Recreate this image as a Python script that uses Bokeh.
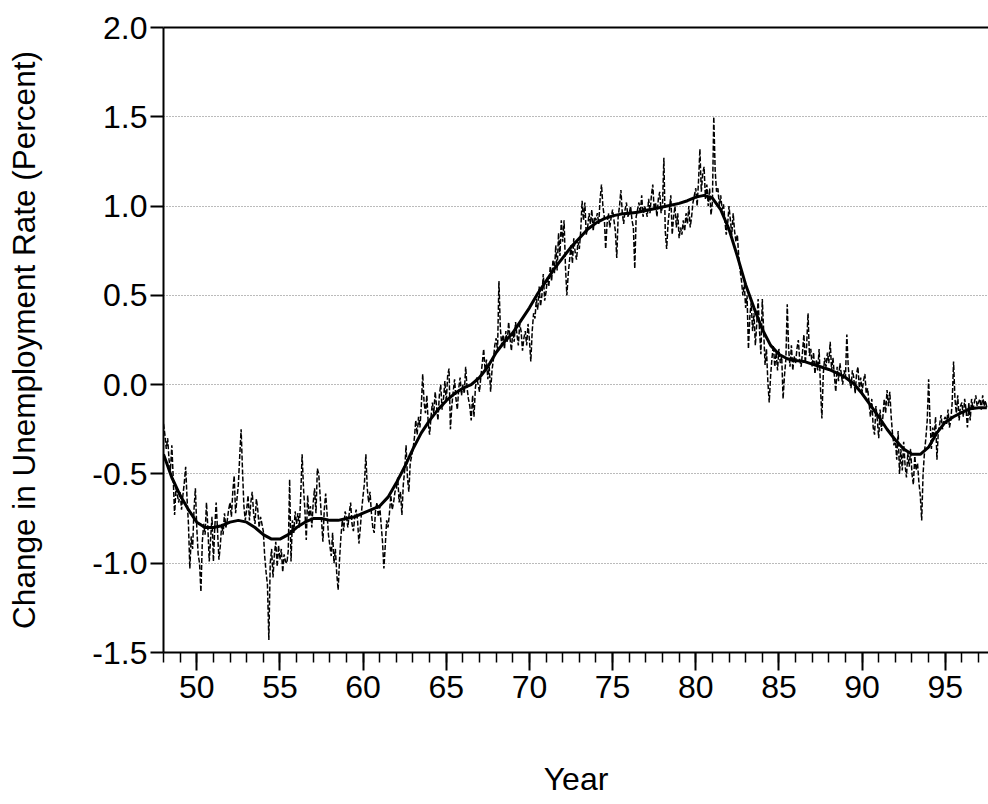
import numpy as np
from bokeh.plotting import figure
from bokeh.models import (Range1d, LinearAxis, FixedTicker, SingleIntervalTicker,
                          NumeralTickFormatter, ColumnDataSource)
from bokeh.embed import file_html
from bokeh.resources import INLINE

# ---------------- data ----------------
first_year = 48  # monthly observations start in January 1948

# monthly change in unemployment rate (percent), one row per year
change_1948_1957 = [
    -0.22, -0.28, -0.36, -0.30, -0.42, -0.48, -0.34, -0.52, -0.73, -0.58, -0.62, -0.66,
    -0.60, -0.70, -0.62, -0.55, -0.46, -0.64, -0.78, -1.03, -0.85, -0.92, -0.70, -0.58,
    -0.80, -0.95, -1.00, -1.16, -0.88, -0.78, -0.84, -0.66, -0.80, -0.99, -0.86, -0.74,
    -0.99, -0.80, -0.66, -0.82, -0.98, -0.90, -0.78, -0.84, -0.72, -0.80, -0.76, -0.70,
    -0.66, -0.74, -0.60, -0.51, -0.72, -0.64, -0.56, -0.40, -0.25, -0.48, -0.68, -0.76,
    -0.70, -0.62, -0.76, -0.66, -0.60, -0.72, -0.78, -0.64, -0.70, -0.80, -0.74, -0.78,
    -0.82, -0.96, -1.05, -1.12, -1.43, -1.00, -0.92, -1.08, -0.95, -0.88, -1.02, -0.90,
    -0.98, -0.92, -1.05, -0.95, -0.99, -1.00, -0.93, -0.53, -0.99, -0.76, -0.83, -0.71,
    -0.78, -0.72, -0.80, -0.62, -0.39, -0.58, -0.70, -0.87, -0.62, -0.74, -0.68, -0.80,
    -0.66, -0.58, -0.72, -0.47, -0.50, -0.62, -0.76, -0.88, -0.70, -0.61, -0.72, -0.84,
]
change_1958_1967 = [
    -0.90, -0.96, -0.83, -1.00, -0.92, -1.06, -1.15, -0.98, -0.85, -0.76, -0.82, -0.71,
    -0.74, -0.80, -0.72, -0.66, -0.78, -0.82, -0.74, -0.70, -0.76, -0.89, -0.80, -0.70,
    -0.62, -0.55, -0.39, -0.58, -0.66, -0.60, -0.72, -0.80, -0.83, -0.70, -0.66, -0.74,
    -0.68, -0.78, -0.88, -1.03, -0.90, -0.76, -0.80, -0.72, -0.62, -0.70, -0.66, -0.60,
    -0.58, -0.52, -0.66, -0.60, -0.73, -0.56, -0.48, -0.34, -0.52, -0.60, -0.44, -0.40,
    -0.36, -0.30, -0.20, -0.28, -0.18, -0.24, -0.12, 0.06, -0.10, -0.16, -0.06, -0.22,
    -0.28, -0.18, -0.10, -0.16, -0.04, -0.12, -0.20, -0.06, 0.00, -0.14, -0.08, 0.02,
    -0.10, 0.05, 0.09, -0.25, -0.12, -0.04, 0.03, -0.08, -0.14, -0.02, 0.04, -0.06,
    0.00, -0.05, 0.10, -0.02, -0.08, -0.12, -0.20, -0.06, -0.18, -0.02, 0.04, 0.00,
    -0.04, 0.05, 0.12, 0.20, 0.08, 0.14, 0.03, 0.10, -0.04, 0.08, 0.14, 0.22,
]
change_1968_1977 = [
    0.26, 0.19, 0.58, 0.32, 0.22, 0.28, 0.20, 0.30, 0.24, 0.35, 0.26, 0.19,
    0.30, 0.24, 0.35, 0.28, 0.22, 0.34, 0.30, 0.19, 0.26, 0.30, 0.22, 0.34,
    0.25, 0.13, 0.30, 0.40, 0.37, 0.48, 0.42, 0.55, 0.44, 0.50, 0.62, 0.47,
    0.52, 0.60, 0.55, 0.66, 0.58, 0.70, 0.62, 0.78, 0.64, 0.85, 0.72, 0.92,
    0.80, 0.92, 0.66, 0.50, 0.62, 0.70, 0.78, 0.68, 0.82, 0.74, 0.70, 0.80,
    0.76, 0.86, 1.03, 0.92, 1.02, 0.84, 0.88, 0.96, 0.90, 0.98, 0.86, 0.94,
    0.92, 0.96, 0.90, 1.04, 1.12, 1.00, 0.94, 0.76, 0.90, 0.96, 0.88, 0.94,
    0.98, 0.92, 0.86, 0.71, 0.94, 1.00, 1.09, 0.96, 0.90, 0.98, 1.02, 0.94,
    0.96, 1.00, 0.92, 0.88, 0.65, 0.94, 0.98, 1.02, 0.96, 1.06, 0.94, 1.00,
    0.98, 0.94, 1.04, 0.96, 1.06, 1.12, 0.98, 1.02, 0.94, 1.04, 1.08, 0.96,
]
change_1978_1987 = [
    1.00, 1.27, 0.86, 0.76, 0.90, 0.98, 1.06, 0.84, 0.94, 1.00, 0.88, 0.96,
    0.82, 0.88, 0.84, 0.92, 0.86, 0.96, 0.90, 1.00, 0.88, 0.94, 1.02, 1.06,
    1.10, 1.00, 1.14, 1.32, 1.08, 1.18, 1.22, 1.04, 1.12, 1.00, 1.10, 0.95,
    1.02, 1.50, 1.20, 1.08, 1.10, 1.00, 1.06, 0.98, 1.01, 0.92, 0.84, 0.90,
    1.00, 0.92, 0.84, 0.96, 0.86, 0.80, 0.84, 0.72, 0.64, 0.58, 0.50, 0.56,
    0.43, 0.50, 0.20, 0.38, 0.46, 0.30, 0.40, 0.22, 0.34, 0.48, 0.30, 0.17,
    0.48, 0.30, 0.11, 0.20, 0.02, -0.10, 0.05, 0.15, 0.22, 0.10, 0.18, 0.08,
    0.20, 0.12, 0.16, -0.08, 0.05, 0.14, 0.45, 0.20, 0.10, 0.22, 0.08, 0.16,
    0.12, 0.20, 0.25, 0.14, 0.10, 0.18, 0.28, 0.12, 0.22, 0.40, 0.16, 0.20,
    0.10, 0.18, 0.06, 0.14, 0.08, 0.20, -0.02, -0.19, 0.06, 0.15, 0.10, 0.18,
]
change_1988_1997 = [
    0.12, 0.24, 0.08, 0.15, 0.05, -0.04, 0.10, 0.02, 0.12, 0.06, 0.00, 0.08,
    0.04, 0.28, 0.10, 0.02, -0.02, 0.08, 0.04, -0.05, 0.06, 0.10, -0.02, 0.04,
    -0.04, 0.02, 0.06, -0.05, -0.02, -0.10, -0.18, -0.08, -0.24, -0.28, -0.12, -0.20,
    -0.30, -0.14, -0.26, -0.18, -0.08, -0.16, -0.03, -0.12, -0.04, -0.18, -0.28, -0.34,
    -0.30, -0.42, -0.26, -0.50, -0.36, -0.48, -0.32, -0.45, -0.52, -0.38, -0.46, -0.36,
    -0.50, -0.56, -0.40, -0.48, -0.44, -0.55, -0.62, -0.76, -0.50, -0.38, -0.30, -0.20,
    0.03, -0.20, -0.36, -0.24, -0.30, -0.18, -0.42, -0.26, -0.22, -0.17, -0.25, -0.20,
    -0.18, -0.22, -0.14, -0.24, -0.20, -0.10, 0.13, -0.08, -0.16, -0.06, -0.20, -0.12,
    -0.10, -0.18, -0.08, -0.14, -0.24, -0.10, -0.20, -0.08, -0.14, -0.10, -0.06, -0.12,
    -0.10, -0.08, -0.14, -0.06, -0.12, -0.09, -0.13,
]

# smooth trend, sampled every half year
trend_years = [
    48.0, 48.5, 49.0, 49.5, 50.0, 50.5, 51.0, 51.5, 52.0, 52.5,
    53.0, 53.5, 54.0, 54.5, 55.0, 55.5, 56.0, 56.5, 57.0, 57.5,
    58.0, 58.5, 59.0, 59.5, 60.0, 60.5, 61.0, 61.5, 62.0, 62.5,
    63.0, 63.5, 64.0, 64.5, 65.0, 65.5, 66.0, 66.5, 67.0, 67.5,
    68.0, 68.5, 69.0, 69.5, 70.0, 70.5, 71.0, 71.5, 72.0, 72.5,
    73.0, 73.5, 74.0, 74.5, 75.0, 75.5, 76.0, 76.5, 77.0, 77.5,
    78.0, 78.5, 79.0, 79.5, 80.0, 80.5, 81.0, 81.5, 82.0, 82.5,
    83.0, 83.5, 84.0, 84.5, 85.0, 85.5, 86.0, 86.5, 87.0, 87.5,
    88.0, 88.5, 89.0, 89.5, 90.0, 90.5, 91.0, 91.5, 92.0, 92.5,
    93.0, 93.5, 94.0, 94.5, 95.0, 95.5, 96.0, 96.5, 97.0, 97.5,
]
trend_values = [
    -0.39, -0.52, -0.62, -0.70, -0.77, -0.80, -0.80, -0.79, -0.77, -0.76,
    -0.77, -0.80, -0.84, -0.865, -0.865, -0.84, -0.80, -0.77, -0.75, -0.75,
    -0.76, -0.76, -0.75, -0.74, -0.72, -0.70, -0.68, -0.63, -0.55, -0.46,
    -0.36, -0.27, -0.20, -0.14, -0.09, -0.05, -0.02, 0.00, 0.04, 0.10,
    0.18, 0.24, 0.29, 0.36, 0.43, 0.51, 0.58, 0.65, 0.71, 0.77,
    0.82, 0.87, 0.905, 0.93, 0.945, 0.955, 0.96, 0.965, 0.975, 0.985,
    0.995, 1.005, 1.015, 1.03, 1.05, 1.06, 1.045, 0.98, 0.87, 0.72,
    0.56, 0.43, 0.31, 0.22, 0.17, 0.145, 0.135, 0.13, 0.115, 0.10,
    0.085, 0.065, 0.04, 0.005, -0.05, -0.115, -0.18, -0.25, -0.31, -0.36,
    -0.39, -0.39, -0.35, -0.27, -0.21, -0.18, -0.155, -0.135, -0.13, -0.13,
]

y_ticks = [-1.5, -1.0, -0.5, 0.0, 0.5, 1.0, 1.5, 2.0]

# ---------------- build ----------------
monthly = (change_1948_1957 + change_1958_1967 + change_1968_1977
           + change_1978_1987 + change_1988_1997)
month_x = [first_year + i / 12.0 for i in range(len(monthly))]

src_m = ColumnDataSource(dict(x=month_x, y=monthly))
src_t = ColumnDataSource(dict(x=trend_years, y=trend_values))

FONT = "Liberation Sans"
FS = "32px"

p = figure(width=988, height=804, output_backend="svg", toolbar_location=None,
           x_range=Range1d(48, 97.6), y_range=Range1d(-1.5, 2.0),
           min_border_left=163, min_border_right=0, min_border_top=27,
           min_border_bottom=152, background_fill_color="white",
           border_fill_color="white")
p.outline_line_color = None

p.line("x", "y", source=src_m, line_color="black", line_width=1.5, line_dash="5 2")
p.line("x", "y", source=src_t, line_color="black", line_width=3)

# y axis
ya = p.yaxis[0]
ya.ticker = FixedTicker(ticks=y_ticks)
ya.formatter = NumeralTickFormatter(format="0.0")
ya.axis_line_width = 2
ya.axis_line_color = "black"
ya.major_tick_out = 13
ya.major_tick_in = 0
ya.major_tick_line_width = 2
ya.minor_tick_line_color = None
ya.major_label_text_font = FONT
ya.major_label_text_font_size = FS
ya.major_label_text_color = "black"
ya.major_label_standoff = 3
ya.axis_label = "Change in Unemployment Rate (Percent)"
ya.axis_label_text_font = FONT
ya.axis_label_text_font_size = "31.5px"
ya.axis_label_text_font_style = "normal"
ya.axis_label_text_color = "black"
ya.axis_label_standoff = 47

# x axis
xa = p.xaxis[0]
xa.ticker = SingleIntervalTicker(interval=5, num_minor_ticks=5)
xa.axis_line_width = 2
xa.axis_line_color = "black"
xa.major_tick_out = 18
xa.major_tick_in = 0
xa.minor_tick_out = 10
xa.minor_tick_in = 0
xa.major_tick_line_width = 2
xa.minor_tick_line_width = 1.5
xa.major_label_text_font = FONT
xa.major_label_text_font_size = FS
xa.major_label_text_color = "black"
xa.major_label_standoff = 5
xa.axis_label = "Year"
xa.axis_label_text_font = FONT
xa.axis_label_text_font_size = "32px"
xa.axis_label_text_font_style = "normal"
xa.axis_label_text_color = "black"
xa.axis_label_standoff = 60

# top border as a bare axis line
top = LinearAxis(ticker=FixedTicker(ticks=[]), axis_line_width=2, axis_line_color="black",
                 major_tick_line_color=None, minor_tick_line_color=None,
                 major_label_text_font_size="0px")
p.add_layout(top, "above")

p.xgrid.grid_line_color = None
p.ygrid.ticker = FixedTicker(ticks=y_ticks)
p.ygrid.grid_line_color = "#777777"
p.ygrid.grid_line_dash = "1 2"
p.ygrid.grid_line_width = 1

open("out.html", "w").write(file_html(p, INLINE))
